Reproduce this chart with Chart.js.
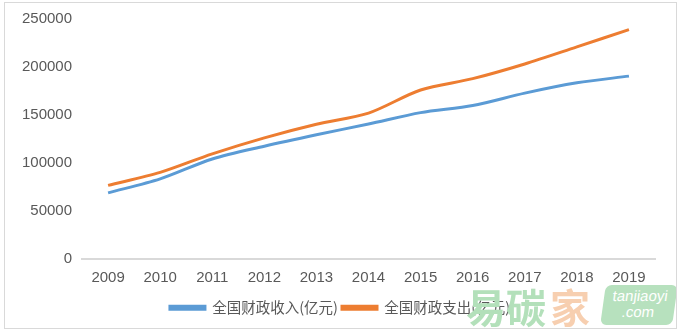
<!DOCTYPE html>
<html>
<head>
<meta charset="utf-8">
<script src="https://cdn.jsdelivr.net/npm/chart.js@4/dist/chart.umd.min.js"></script>
<style>
  html, body { margin: 0; padding: 0; background: #ffffff; }
  #wrap { position: relative; width: 683px; height: 334px; overflow: hidden; }
  #frame { position: absolute; left: 4px; top: 2px; width: 673px; height: 327px; border: 1px solid #d9d9d9; box-sizing: border-box; pointer-events: none; }
  #chartbox { position: absolute; left: 0; top: 0; width: 683px; height: 334px; }
  .wm { position: absolute; font-family: "Noto Sans CJK SC", sans-serif; font-weight: bold; font-size: 40px; line-height: 40px; }
  #wmbox { position: absolute; left: 603px; top: 285px; width: 72px; height: 40px; background: #b7e1be; border-radius: 6px; transform: skewX(-8deg); color: #ffffff; font-family: "Liberation Sans", sans-serif; font-size: 15px; line-height: 16px; text-align: center; }
</style>
</head>
<body>
<div id="wrap">
  <div id="chartbox"><canvas id="c" width="683" height="334"></canvas></div>
  <div class="wm" style="left:466px; top:286px; color:#b3e0ba;">易碳</div>
  <div class="wm" style="left:550px; top:286px; color:#f7cfb0;">家</div>
  <div id="wmbox"><div style="margin-top:3px;">tanjiaoyi</div><div>.com</div></div>
  <div id="frame"></div>
</div>
<script>
const years = ["2009","2010","2011","2012","2013","2014","2015","2016","2017","2018","2019"];
const revenue = [68518, 83102, 103874, 117254, 129210, 140370, 152269, 159605, 172593, 183360, 190382];
const expenditure = [76300, 89874, 109248, 125953, 140212, 151786, 175878, 187755, 203085, 220904, 238874];
const seriesNames = ["全国财政收入(亿元)", "全国财政支出(亿元)"];

const tickFont = { family: "'Liberation Sans', 'Noto Sans CJK SC', sans-serif", size: 15 };

new Chart(document.getElementById('c'), {
  type: 'line',
  data: {
    labels: years,
    datasets: [
      { label: seriesNames[0], data: revenue, borderColor: '#5b9bd5', backgroundColor: '#5b9bd5', borderWidth: 3, pointRadius: 0, tension: 0.3, fill: false },
      { label: seriesNames[1], data: expenditure, borderColor: '#ed7d31', backgroundColor: '#ed7d31', borderWidth: 3, pointRadius: 0, tension: 0.3, fill: false }
    ]
  },
  options: {
    responsive: false,
    animation: false,
    layout: { padding: { left: 12, right: 15, top: 16, bottom: 9 } },
    plugins: {
      tooltip: { enabled: false },
      legend: {
        position: 'bottom',
        labels: {
          color: '#595959',
          font: { family: "'Noto Sans CJK SC', sans-serif", size: 14.5 },
          boxWidth: 35,
          boxHeight: 3,
          padding: 4
        }
      }
    },
    scales: {
      x: {
        offset: true,
        grid: { display: false, drawTicks: false },
        border: { display: true, color: '#d9d9d9', width: 2 },
        ticks: { color: '#595959', font: tickFont, padding: 10, maxRotation: 0 }
      },
      y: {
        min: 0, max: 250000,
        grid: { display: false, drawTicks: false },
        border: { display: false },
        ticks: { stepSize: 50000, color: '#595959', font: tickFont, padding: 10, callback: (v) => String(v) }
      },
      ySpacer: {
        position: 'right',
        display: true,
        grid: { display: false, drawTicks: false },
        border: { display: false },
        ticks: { display: false },
        afterFit: (s) => { s.width = 13; }
      }
    }
  }
});
</script>
</body>
</html>
